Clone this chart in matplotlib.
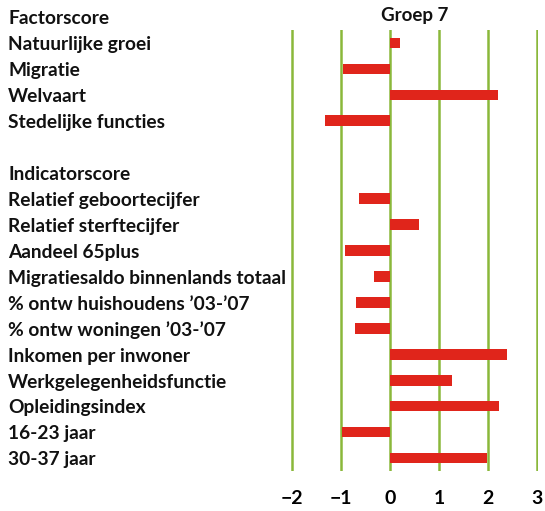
import numpy as np
import matplotlib.pyplot as plt
from matplotlib.transforms import blended_transform_factory

# rows: header labels and indicator names, in drawing order
labels = ['Factorscore', 'Natuurlijke groei', 'Migratie', 'Welvaart', 'Stedelijke functies',
          '', 'Indicatorscore', 'Relatief geboortecijfer', 'Relatief sterftecijfer',
          'Aandeel 65plus', 'Migratiesaldo binnenlands totaal', '% ontw huishoudens \u201903-\u201907',
          '% ontw woningen \u201903-\u201907', 'Inkomen per inwoner', 'Werkgelegenheidsfunctie',
          'Opleidingsindex', '16-23 jaar', '30-37 jaar']
# None = no bar on that row
values = [None, 0.20, -0.95, 2.21, -1.33,
          None, None, -0.64, 0.59,
          -0.91, -0.32, -0.70,
          -0.72, 2.38, 1.26,
          2.22, -0.97, 1.97]
xticks = [-2, -1, 0, 1, 2, 3]
xticklabels = ['\u22122', '\u22121', '0', '1', '2', '3']
title = 'Groep 7'

plt.rcParams['font.family'] = ['Lato', 'DejaVu Sans']

fig = plt.figure(figsize=(5.45, 5.11), dpi=100)
W, H = 545, 511
ax = fig.add_axes([291 / W, 1 - 471 / H, (538 - 291) / W, (471 - 30) / H])

rows = np.arange(len(labels))
for r, v in zip(rows, values):
    if v is not None:
        ax.barh(r, v, height=0.41, color='#e0251b', zorder=3)

for t in xticks:
    ax.axvline(t, color='#8ab83a', lw=1.8, zorder=1)

ax.set_xlim(-2.02, 3.02)
ax.set_ylim(17.5, 0.5)
ax.set_xticks(xticks)
ax.set_xticklabels(xticklabels, fontsize=14, fontweight='bold')
ax.tick_params(axis='x', length=0, pad=14)
ax.set_yticks([])
for s in ax.spines.values():
    s.set_visible(False)

trans = blended_transform_factory(fig.transFigure, ax.transData)
for r, lab in zip(rows, labels):
    ax.text(8 / W, r + 0.07, lab, transform=trans, fontsize=13.8, fontweight='bold',
            va='center', ha='left', color='#111111', clip_on=False)

ax.text(0.5, 1 - 16 / H, title, transform=blended_transform_factory(ax.transAxes, fig.transFigure),
        fontsize=13.5, fontweight='bold', ha='center', va='center', color='#111111')

fig.savefig('out.png', dpi=100)
